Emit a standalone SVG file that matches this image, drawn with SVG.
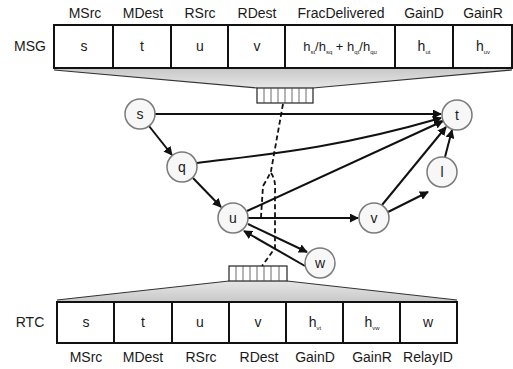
<svg xmlns="http://www.w3.org/2000/svg" width="513" height="369" viewBox="0 0 513 369">
<defs>
<marker id="ah" viewBox="0 0 10 10" refX="9" refY="5" markerWidth="9" markerHeight="9" markerUnits="userSpaceOnUse" orient="auto"><path d="M0,0 L10,5 L0,10 z" fill="#111"/></marker>
<linearGradient id="gt" x1="0" y1="0" x2="0" y2="1"><stop offset="0" stop-color="#c8c8c8"/><stop offset="1" stop-color="#e6e6e6"/></linearGradient>
<linearGradient id="gb" x1="0" y1="1" x2="0" y2="0"><stop offset="0" stop-color="#c8c8c8"/><stop offset="1" stop-color="#e6e6e6"/></linearGradient>
</defs>
<style>
text{font-family:"Liberation Sans",Arial,sans-serif;fill:#1a1a1a}
.hd{font-size:14px;text-anchor:middle}
.cv{font-size:14px;text-anchor:middle}
.sm{font-size:6px}
.cell{fill:#fff;stroke:#111;stroke-width:2}
.buf{fill:#fff;stroke:#222;stroke-width:1.2}
.bl{stroke:#444;stroke-width:0.8}
.node circle{fill:#f7f7f7;stroke:#7a7a7a;stroke-width:1.5}
.node text{font-size:14px;text-anchor:middle}
.e{fill:none;stroke:#111;stroke-width:2;marker-end:url(#ah)}
.d{fill:none;stroke:#111;stroke-width:1.8;stroke-dasharray:5,3}
</style>

<g id="msg">
<text class="hd" x="85" y="18">MSrc</text>
<text class="hd" x="143" y="18">MDest</text>
<text class="hd" x="200" y="18">RSrc</text>
<text class="hd" x="257" y="18">RDest</text>
<text class="hd" x="341" y="18">FracDelivered</text>
<text class="hd" x="424" y="18">GainD</text>
<text class="hd" x="483" y="18">GainR</text>
<text class="hd" x="30" y="51">MSG</text>
<path d="M54,68 L512,68 L512,70 L313,88 L257,88 L54,70 z" fill="url(#gt)"/>
<path d="M54,70 L257,88 M313,88 L512,70" stroke="#333" stroke-width="1.2" fill="none"/>
<rect class="cell" x="54" y="25" width="458" height="43"/>
<path d="M113,25V68M171,25V68M228,25V68M285,25V68M395,25V68M453,25V68" stroke="#111" stroke-width="2"/>
<text class="cv" x="84" y="51">s</text>
<text class="cv" x="142" y="51">t</text>
<text class="cv" x="200" y="51">u</text>
<text class="cv" x="257" y="51">v</text>
<text x="340" y="51" style="font-size:13px;text-anchor:middle">h<tspan class="sm" dy="3">st</tspan><tspan dy="-3">/h</tspan><tspan class="sm" dy="3">sq</tspan><tspan dy="-3"> + h</tspan><tspan class="sm" dy="3">qt</tspan><tspan dy="-3">/h</tspan><tspan class="sm" dy="3">qu</tspan></text>
<text x="424" y="51" style="font-size:14px;text-anchor:middle">h<tspan class="sm" dy="3">ut</tspan></text>
<text x="483" y="51" style="font-size:14px;text-anchor:middle">h<tspan class="sm" dy="3">uv</tspan></text>
<rect class="buf" x="257" y="88" width="56" height="15"/>
<path class="bl" d="M264,88V103M271,88V103M278,88V103M285,88V103M292,88V103M299,88V103M306,88V103"/>
</g>

<g id="rtc">
<path d="M57,302 L457,302 L457,300 L287,281 L229,281 L57,300 z" fill="url(#gb)"/>
<path d="M57,300 L229,281 M287,281 L457,300" stroke="#333" stroke-width="1.2" fill="none"/>
<rect class="cell" x="57" y="302" width="400" height="41"/>
<path d="M114,302V343M172,302V343M229,302V343M286,302V343M343,302V343M400,302V343" stroke="#111" stroke-width="2"/>
<text class="hd" x="30" y="327">RTC</text>
<text class="cv" x="86" y="327">s</text>
<text class="cv" x="143" y="327">t</text>
<text class="cv" x="200" y="327">u</text>
<text class="cv" x="258" y="327">v</text>
<text x="315" y="327" style="font-size:14px;text-anchor:middle">h<tspan class="sm" dy="3">vt</tspan></text>
<text x="372" y="327" style="font-size:14px;text-anchor:middle">h<tspan class="sm" dy="3">vw</tspan></text>
<text class="cv" x="428" y="327">w</text>
<text class="hd" x="86" y="362">MSrc</text>
<text class="hd" x="143" y="362">MDest</text>
<text class="hd" x="201" y="362">RSrc</text>
<text class="hd" x="259" y="362">RDest</text>
<text class="hd" x="315" y="362">GainD</text>
<text class="hd" x="372" y="362">GainR</text>
<text class="hd" x="428" y="362">RelayID</text>
<rect class="buf" x="229" y="266" width="58" height="15"/>
<path class="bl" d="M236,266V281M243,266V281M250,266V281M257,266V281M264,266V281M271,266V281M279,266V281"/>
</g>

<g id="connectors">
<path class="e" d="M155,114 L441,114"/>
<path class="e" d="M149,126 L172,155"/>
<path class="e" d="M197,163 C260,155 330,150 441,118"/>
<path class="e" d="M193,178 L221,207"/>
<path class="e" d="M247,211 L443,121"/>
<path class="e" d="M248,218 L358,218"/>
<path class="e" d="M382,205 L446,127"/>
<path class="e" d="M388,212 L428,192"/>
<path class="e" d="M445,157 L452,130"/>
<path class="e" d="M248,224 L307,252"/>
<path class="e" d="M305,266 L244,231"/>
<path class="d" d="M283,104 L271,171 Q268,178 263,186 L261,217"/>
<path class="d" d="M271,173 Q276,180 275,192 L275,248 L262,266"/>
</g>

<g id="s" class="node"><circle cx="140" cy="114" r="15"/><text x="140" y="119">s</text></g>
<g id="q" class="node"><circle cx="182" cy="167" r="15"/><text x="182" y="172">q</text></g>
<g id="u" class="node"><circle cx="233" cy="218" r="15"/><text x="233" y="223">u</text></g>
<g id="t" class="node"><circle cx="457" cy="115" r="15"/><text x="457" y="120">t</text></g>
<g id="l" class="node"><circle cx="442" cy="172" r="15"/><text x="442" y="177">l</text></g>
<g id="v" class="node"><circle cx="374" cy="218" r="15"/><text x="374" y="223">v</text></g>
<g id="w" class="node"><circle cx="320" cy="263" r="15"/><text x="320" y="268">w</text></g>
</svg>
